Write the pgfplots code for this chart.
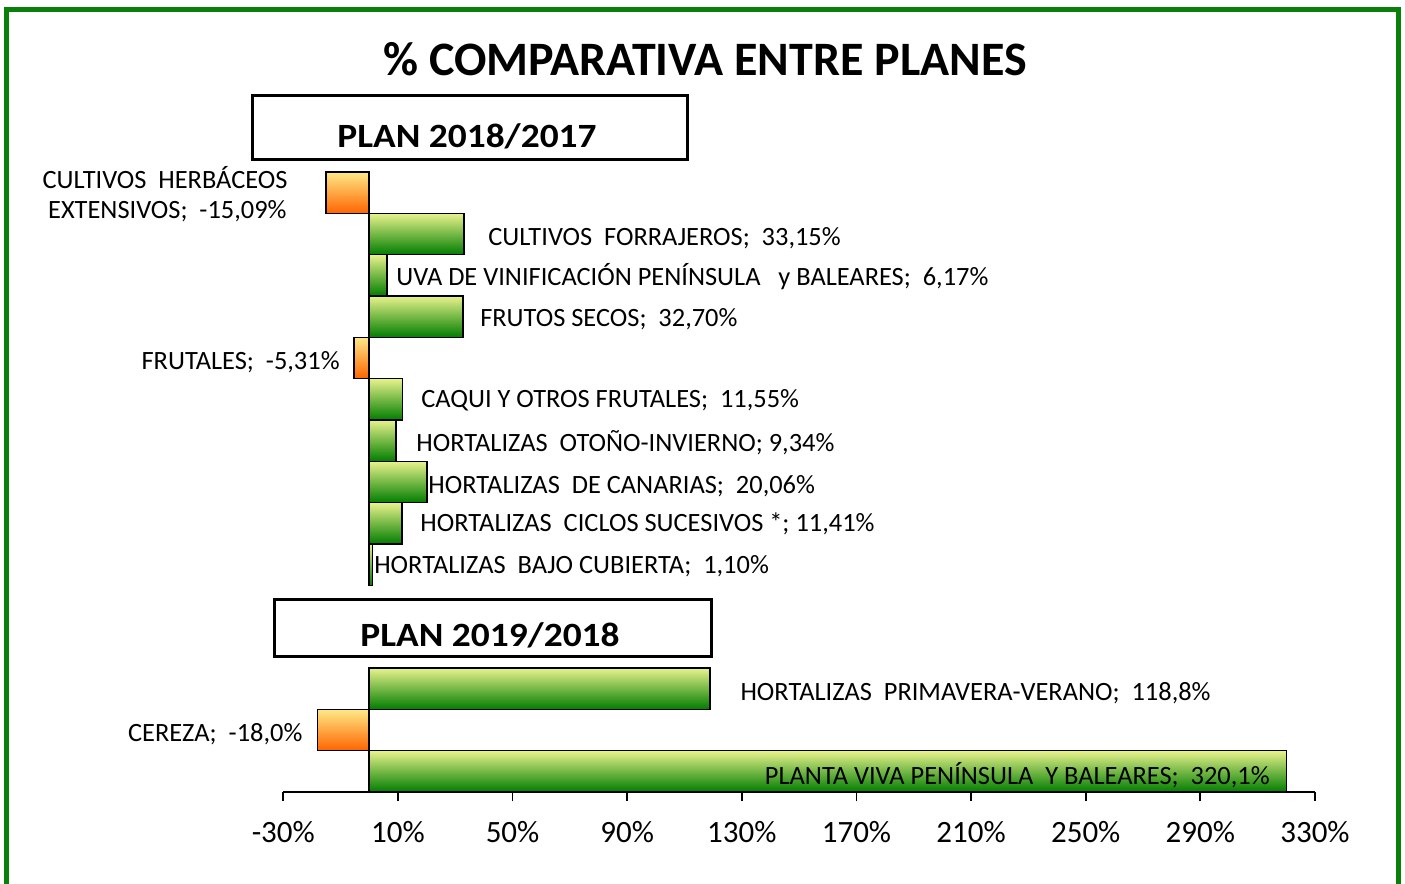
\documentclass[border=0pt]{standalone}
\usepackage{fontspec}
\setmainfont{Carlito}
\usepackage{graphicx}
\usepackage{pgfplots}
\pgfplotsset{compat=1.18}
\definecolor{frameg}{RGB}{10,128,10}
\definecolor{gtop}{RGB}{232,242,140}
\definecolor{gbot}{RGB}{0,125,0}
\definecolor{otop}{RGB}{255,232,135}
\definecolor{obot}{RGB}{255,100,0}
\tikzset{lbl/.style={font=\fontsize{13.2}{15.5}\selectfont, inner sep=0pt}}
\pgfplotsset{
  gbar/.style={xbar, bar shift=0pt, draw=black, line width=0.8pt, top color=gtop, bottom color=gbot},
  obar/.style={xbar, bar shift=0pt, draw=black, line width=0.8pt, top color=otop, bottom color=obot},
}
\begin{document}
\begin{tikzpicture}
\path[use as bounding box] (0,0) rectangle (702.5pt,442pt);
\draw[frameg, line width=2.5pt] (3.35pt,-5pt) -- (3.35pt,437.4pt) -- (699pt,437.4pt) -- (699pt,-5pt);
\node[font=\fontsize{24}{28}\selectfont\bfseries, inner sep=0pt, anchor=base] at (352.5pt,404.25pt) {\% COMPARATIVA ENTRE PLANES};
\begin{axis}[
  at={(141.65pt,46pt)}, anchor=south west,
  scale only axis, width=515.85pt, height=310pt,
  xmin=-30, xmax=330, ymin=-0.5, ymax=14.5, y dir=reverse,
  axis x line*=bottom, axis y line=none,
  xtick={-30,10,...,330},
  xticklabels={-30\%,10\%,50\%,90\%,130\%,170\%,210\%,250\%,290\%,330\%},
  tick align=outside, major tick length=4.5pt,
  x axis line style={line width=0.9pt},
  every tick/.style={black, line width=0.9pt},
  xticklabel style={font=\fontsize{15.5}{18}\selectfont, yshift=-6.5pt},
  xbar, bar width=1,
  clip=false,
]
\addplot[gbar] coordinates {(33.15,1)};
\addplot[gbar] coordinates {(6.17,2)};
\addplot[gbar] coordinates {(32.70,3)};
\addplot[gbar] coordinates {(11.55,5)};
\addplot[gbar] coordinates {(9.34,6)};
\addplot[gbar] coordinates {(20.06,7)};
\addplot[gbar] coordinates {(11.41,8)};
\addplot[gbar] coordinates {(1.10,9)};
\addplot[gbar] coordinates {(118.8,12)};
\addplot[gbar] coordinates {(320.1,14)};
\addplot[obar] coordinates {(-15.09,0)};
\addplot[obar] coordinates {(-5.31,4)};
\addplot[obar] coordinates {(-18.0,13)};
\node[lbl, anchor=base east] at (axis cs:-28.4,-0.106) {CULTIVOS\ \ HERBÁCEOS};
\node[lbl, anchor=base east] at (axis cs:-28.7,0.63) {EXTENSIVOS;\ \ -15,09\%};
\node[lbl, anchor=base west] at (axis cs:41.4,1.278) {CULTIVOS\ \ FORRAJEROS;\ \ 33,15\%};
\node[lbl, anchor=base west] at (axis cs:9.3,2.234) {UVA DE VINIFICACIÓN PENÍNSULA\ \ \ y BALEARES;\ \ 6,17\%};
\node[lbl, anchor=base west] at (axis cs:38.6,3.243) {FRUTOS SECOS;\ \ 32,70\%};
\node[lbl, anchor=base east] at (axis cs:-10.2,4.278) {FRUTALES;\ \ -5,31\%};
\node[lbl, anchor=base west] at (axis cs:18.0,5.198) {CAQUI Y OTROS FRUTALES;\ \ 11,55\%};
\node[lbl, anchor=base west] at (axis cs:16.3,6.263) {HORTALIZAS\ \ OTOÑO-INVIERNO; 9,34\%};
\node[lbl, anchor=base west] at (axis cs:20.5,7.279) {HORTALIZAS\ \ DE CANARIAS;\ \ 20,06\%};
\node[lbl, anchor=base west] at (axis cs:17.7,8.198) {HORTALIZAS\ \ CICLOS SUCESIVOS *; 11,41\%};
\node[lbl, anchor=base west] at (axis cs:1.6,9.210) {HORTALIZAS\ \ BAJO CUBIERTA;\ \ 1,10\%};
\node[lbl, anchor=base west] at (axis cs:129.4,12.275) {HORTALIZAS\ \ PRIMAVERA-VERANO;\ \ 118,8\%};
\node[lbl, anchor=base east] at (axis cs:-23.2,13.279) {CEREZA;\ \ -18,0\%};
\node[lbl, anchor=base east] at (axis cs:314.3,14.315) {PLANTA VIVA PENÍNSULA\ \ Y BALEARES;\ \ 320,1\%};
\end{axis}
\draw[line width=1.5pt] (126pt,362pt) rectangle (343.5pt,394pt);
\node[font=\fontsize{17}{20}\selectfont\bfseries, inner sep=0pt, anchor=base] at (233.5pt,368.15pt) {\scalebox{1.1}[1]{PLAN 2018/2017}};
\draw[line width=1.5pt] (137pt,113.5pt) rectangle (355.5pt,142pt);
\node[font=\fontsize{17}{20}\selectfont\bfseries, inner sep=0pt, anchor=base] at (245pt,118.5pt) {\scalebox{1.1}[1]{PLAN 2019/2018}};
\end{tikzpicture}
\end{document}
